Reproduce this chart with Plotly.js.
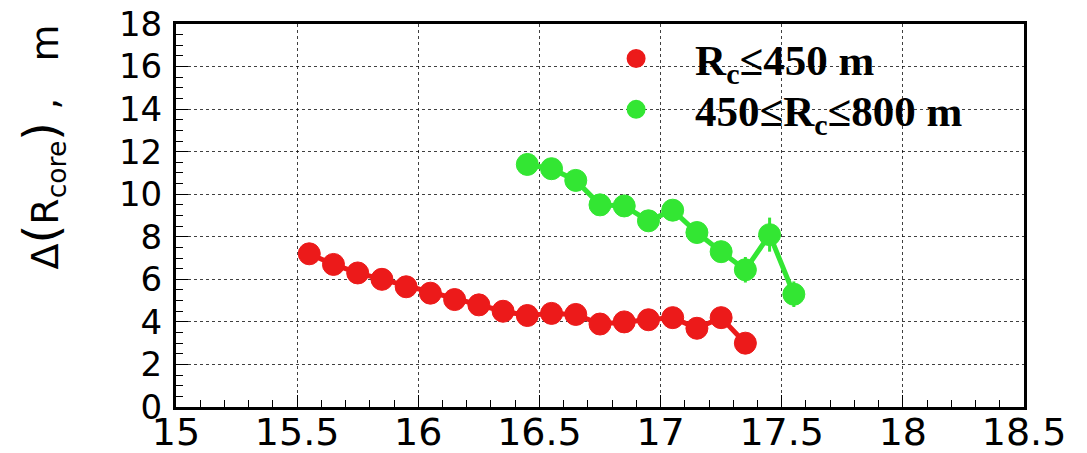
<!DOCTYPE html>
<html>
<head>
<meta charset="utf-8">
<script src="https://cdn.plot.ly/plotly-3.0.1.min.js"></script>
<style>
  html, body { margin: 0; padding: 0; background: #fff; }
  #chart { width: 1087px; height: 453px; }
</style>
</head>
<body>
<div id="chart"></div>
<script>
// ---- data ----
const redName = 'R<sub>c</sub>≤450 m';
const redX = [15.55, 15.65, 15.75, 15.85, 15.95, 16.05, 16.15, 16.25, 16.35, 16.45,
              16.55, 16.65, 16.75, 16.85, 16.95, 17.05, 17.15, 17.25, 17.35];
const redY = [7.2, 6.7, 6.3, 6.0, 5.65, 5.35, 5.05, 4.8, 4.5, 4.3,
              4.4, 4.35, 3.9, 4.0, 4.1, 4.2, 3.7, 4.2, 3.0];
const redErr = [0.2, 0.2, 0.2, 0.2, 0.2, 0.2, 0.2, 0.2, 0.2, 0.2,
                0.2, 0.2, 0.2, 0.2, 0.2, 0.2, 0.25, 0.25, 0.3];

const greenName = '450≤R<sub>c</sub>≤800 m';
const greenX = [16.45, 16.55, 16.65, 16.75, 16.85, 16.95, 17.05, 17.15, 17.25, 17.35, 17.45, 17.55];
const greenY = [11.4, 11.2, 10.65, 9.5, 9.45, 8.75, 9.25, 8.2, 7.3, 6.45, 8.1, 5.3];
const greenErr = [0.3, 0.3, 0.3, 0.3, 0.3, 0.3, 0.3, 0.35, 0.4, 0.6, 0.8, 0.6];

const xTicks = [15, 15.5, 16, 16.5, 17, 17.5, 18, 18.5];
const xTickText = ['15', '15.5', '16', '16.5', '17', '17.5', '18', '18.5'];
const yTicks = [0, 2, 4, 6, 8, 10, 12, 14, 16, 18];

const yTitle = 'Δ<span style="font-size:48px">(</span>R<sub>core</sub><span style="font-size:48px">)</span> ,   m';

// ---- styles ----
const RED = '#ec1a1a';
const GREEN = '#33e633';

function series(x, y, err, color) {
  return {
    x: x, y: y, type: 'scatter', mode: 'lines+markers', showlegend: false,
    line: { color: color, width: 5 },
    marker: { color: color, size: 22, line: { color: color, width: 1 } },
    error_y: { type: 'data', array: err, visible: true, color: color, thickness: 3, width: 0 }
  };
}
function legendEntry(name, color, legendId) {
  return {
    x: [null], y: [null], type: 'scatter', mode: 'markers', name: name, legend: legendId,
    marker: { color: color, size: 22, line: { color: color, width: 3 } }
  };
}

const data = [
  series(redX, redY, redErr, RED),
  series(greenX, greenY, greenErr, GREEN),
  legendEntry(redName, RED, 'legend'),
  legendEntry(greenName, GREEN, 'legend2')
];

const gridDash = '3px,3px';
const legendFont = { family: 'Liberation Serif, Times New Roman, serif', size: 43, color: '#000', weight: 'bold' };
function legendBox(yPos) {
  return {
    x: 0.473, y: yPos, xanchor: 'left', yanchor: 'middle',
    bgcolor: 'rgba(255,255,255,0)', borderwidth: 0,
    itemwidth: 108, font: legendFont
  };
}

const layout = {
  width: 1087, height: 453,
  margin: { l: 176, r: 63, t: 24, b: 46, pad: 0 },
  paper_bgcolor: '#ffffff', plot_bgcolor: '#ffffff',
  font: { family: 'DejaVu Sans, sans-serif', color: '#000' },
  xaxis: {
    range: [15, 18.5], tickvals: xTicks, ticktext: xTickText,
    showline: true, linewidth: 3, linecolor: '#000', mirror: true,
    ticks: 'inside', ticklen: 12, tickwidth: 1, tickcolor: '#000',
    showgrid: true, gridcolor: 'rgba(0,0,0,0.75)', griddash: gridDash, gridwidth: 1,
    zeroline: false,
    tickfont: { family: 'DejaVu Sans, sans-serif', size: 38, color: '#000' },
    minor: { dtick: 0.1, ticks: 'inside', ticklen: 7, tickcolor: '#000', showgrid: false },
    ticklabelstandoff: -11
  },
  yaxis: {
    range: [0, 18], tickvals: yTicks,
    showline: true, linewidth: 3, linecolor: '#000', mirror: true,
    ticks: 'inside', ticklen: 12, tickwidth: 1, tickcolor: '#000',
    showgrid: true, gridcolor: 'rgba(0,0,0,0.75)', griddash: gridDash, gridwidth: 1,
    zeroline: false,
    tickfont: { family: 'DejaVu Sans, sans-serif', size: 34, color: '#000' },
    minor: { dtick: 0.5, ticks: 'inside', ticklen: 7, tickcolor: '#000', showgrid: false },
    ticklabelstandoff: 4
  },
  legend: legendBox(0.91),
  legend2: legendBox(0.777),
  annotations: [{
    text: yTitle, xref: 'paper', yref: 'paper',
    x: -0.157, y: 0.68, xanchor: 'center', yanchor: 'middle',
    textangle: -90, showarrow: false,
    font: { family: 'DejaVu Sans, sans-serif', size: 38, color: '#000' }
  }]
};

Plotly.newPlot('chart', data, layout, { displayModeBar: false, staticPlot: true });
</script>
</body>
</html>
